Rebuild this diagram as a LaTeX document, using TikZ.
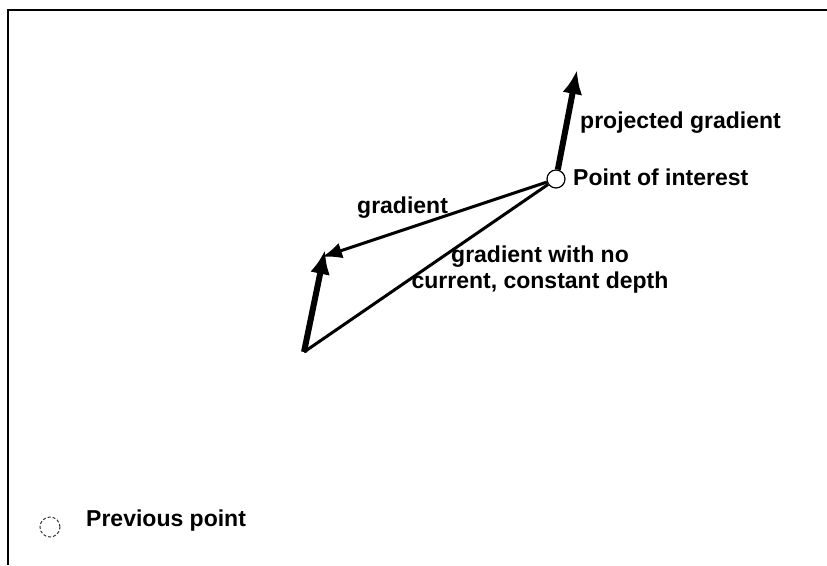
\documentclass[tikz,border=0pt]{standalone}
\usepackage{fontspec}
\setmainfont{Liberation Sans}
\usetikzlibrary{arrows.meta}
\tikzset{
    txt/.style = {font=\fontsize{23}{26}\selectfont\bfseries, inner sep=0pt},
    pointmark/.style = {circle, draw=black, fill=white, minimum size=18pt, inner sep=0pt, line width=1.2pt},
    thickarrow/.style = {line width=6pt, -{Latex[length=24pt,width=20pt]}},
    thinarrow/.style = {line width=3pt, -{Latex[length=20pt,width=16pt]}},
    thinline/.style = {line width=3pt}
}

\begin{document}
\begin{tikzpicture}[x=1pt, y=-1pt]
    \useasboundingbox (0,0) rectangle (827,565);
    \draw [line width=2pt] (827,10) -- (8,10) -- (8,565);

    \node (poi) [pointmark] at (556,179) {};
    \node (prev) [pointmark, draw=black!80, densely dashed, line width=1pt, minimum size=20pt] at (50,527) {};

    \coordinate (projtip) at (577,70);
    \coordinate (gradtip) at (322,257);
    \coordinate (base) at (304,352);
    \coordinate (basetip) at (325,250);

    \draw [thickarrow] (poi) -- (projtip);
    \draw [thinarrow] (poi) -- (gradtip);
    \draw [thinline] (poi) -- (base);
    \draw [thickarrow] (base) -- (basetip);

    \node (projlbl) [txt, anchor=base west] at (580,128) {projected gradient};
    \node (poilbl) [txt, anchor=base west] at (573,185) {Point of interest};
    \node (gradlbl) [txt, anchor=base west] at (357,213) {gradient};
    \node (nocurlbl) [txt, align=center] at (540,270) {gradient with no\\current, constant depth};
    \node (prevlbl) [txt, anchor=base west] at (86,526) {Previous point};
\end{tikzpicture}
\end{document}
